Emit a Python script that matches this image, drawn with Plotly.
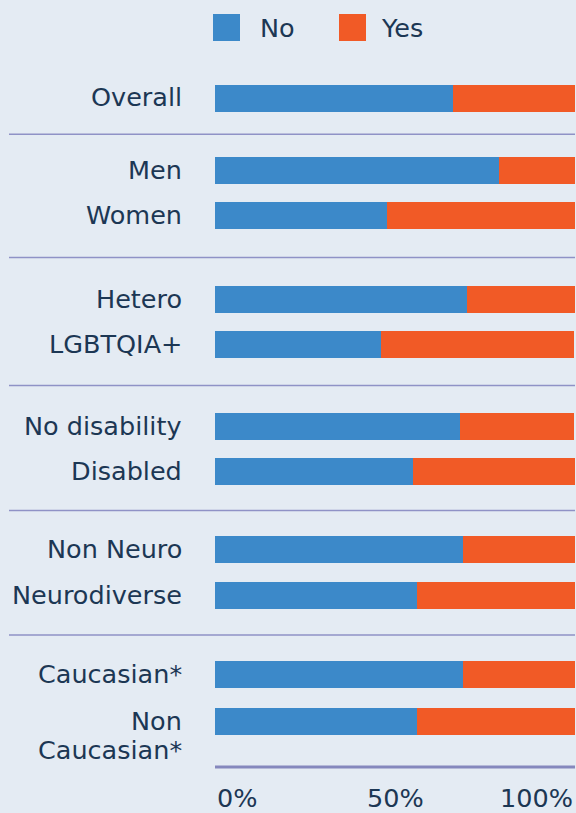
import plotly.graph_objects as go

# ---- data ----
categories = ["Overall", "Men", "Women", "Hetero", "LGBTQIA+", "No disability",
              "Disabled", "Non Neuro", "Neurodiverse", "Caucasian*", "Non<br>Caucasian*"]
no_vals = [0.661, 0.789, 0.479, 0.700, 0.461, 0.680, 0.550, 0.689, 0.561, 0.688, 0.561]
yes_vals = [0.339, 0.211, 0.521, 0.300, 0.536, 0.317, 0.450, 0.311, 0.439, 0.312, 0.439]
series_names = ["No", "Yes"]
x_tick_vals = [0, 0.5, 1.0]
x_tick_text = ["0%", "50%", "100%"]

# ---- layout (pixel positions on a 576x813 canvas) ----
W, H = 576, 813
row_y = [98, 170.5, 215.5, 299.5, 344.5, 426.5, 471.5, 549.5, 595.5, 674.5, 721.5]
group_breaks = [1, 3, 5, 7, 9]  # index of first row of each new group
LINE_STEP = 29
BG = "#e4ebf3"
BLUE = "#3c89c9"
ORANGE = "#f15a26"
TEXT = "#1c3754"
SEP = "#8f92c6"
FONT = "DejaVu Sans"
FS = 25.5

x0_px, x1_px = 215, 575

fig = go.Figure()
fig.add_trace(go.Bar(y=row_y, x=no_vals, orientation="h", width=27,
                     marker=dict(color=BLUE, line=dict(width=0)), name=series_names[0]))
fig.add_trace(go.Bar(y=row_y, x=yes_vals, orientation="h", width=27,
                     marker=dict(color=ORANGE, line=dict(width=0)), name=series_names[1]))

shapes = []
for b in group_breaks:
    ys = (row_y[b - 1] + row_y[b]) / 2
    shapes.append(dict(type="line", xref="paper", yref="y", x0=9 / W, x1=575 / W,
                       y0=ys, y1=ys, line=dict(color=SEP, width=1.5)))
# bottom axis line
shapes.append(dict(type="line", xref="x", yref="y", x0=0, x1=1.0, y0=767, y1=767,
                   line=dict(color="#8588bd", width=3)))
# legend squares
shapes.append(dict(type="rect", xref="paper", yref="y", x0=213 / W, x1=240 / W, y0=14, y1=41,
                   fillcolor=BLUE, line=dict(width=0)))
shapes.append(dict(type="rect", xref="paper", yref="y", x0=339 / W, x1=366 / W, y0=14, y1=41,
                   fillcolor=ORANGE, line=dict(width=0)))

annotations = []
for cat, y in zip(categories, row_y):
    for k, line in enumerate(cat.split("<br>")):
        annotations.append(dict(text=line, xref="paper", yref="y", x=184 / W,
                                y=y - 1 + k * LINE_STEP,
                                xanchor="right", yanchor="middle",
                                align="right", showarrow=False,
                                font=dict(family=FONT, size=FS, color=TEXT)))
annotations.append(dict(text=series_names[0], xref="paper", yref="y", x=258 / W, y=28,
                        xanchor="left", yanchor="middle", showarrow=False,
                        font=dict(family=FONT, size=FS, color=TEXT)))
annotations.append(dict(text=series_names[1], xref="paper", yref="y", x=379 / W, y=28,
                        xanchor="left", yanchor="middle", showarrow=False,
                        font=dict(family=FONT, size=FS, color=TEXT)))
anchors = ["left", "center", "right"]
for v, t, a in zip(x_tick_vals, x_tick_text, anchors):
    annotations.append(dict(text=t, xref="x", yref="y", x=v, y=798,
                            xanchor=a, yanchor="middle", showarrow=False,
                            font=dict(family=FONT, size=FS, color=TEXT)))

fig.update_layout(
    width=W, height=H,
    margin=dict(l=0, r=0, t=0, b=0),
    paper_bgcolor=BG, plot_bgcolor=BG,
    barmode="stack", bargap=0,
    showlegend=False,
    xaxis=dict(domain=[x0_px / W, x1_px / W], range=[0, 1.0], visible=False, fixedrange=True),
    yaxis=dict(domain=[0, 1], range=[H, 0], visible=False, fixedrange=True),
    shapes=shapes, annotations=annotations,
)

fig.write_html("out.html", config={"displayModeBar": False},
               post_script="document.body.style.margin='0';document.body.style.background='" + BG + "';")
